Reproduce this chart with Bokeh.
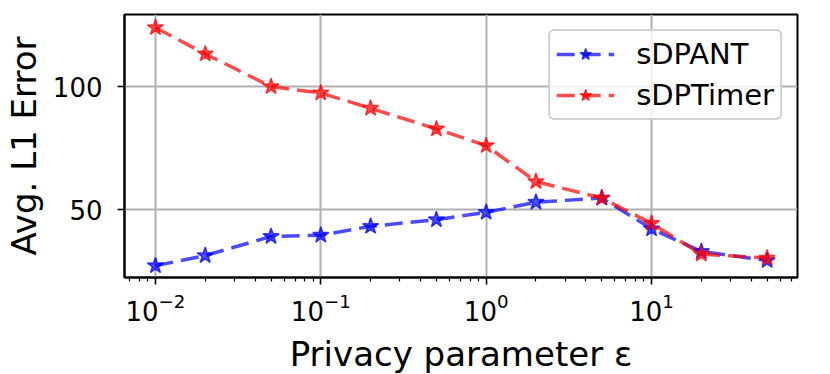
from bokeh.plotting import figure
from bokeh.models import FixedTicker, Range1d, Legend, LegendItem
from bokeh.embed import file_html
from bokeh.resources import INLINE

eps = [0.01, 0.02, 0.05, 0.1, 0.2, 0.5, 1, 2, 5, 10, 20, 50]
sdpant = [27.2, 31.3, 39.1, 39.6, 43.2, 45.9, 48.9, 53.0, 54.7, 42.2, 33.0, 29.3]
sdptimer = [124.0, 113.3, 100.0, 97.4, 91.2, 82.8, 76.0, 61.4, 54.7, 44.4, 31.9, 30.3]
x_major = [0.01, 0.1, 1, 10]
x_minor = [0.007, 0.008, 0.009] + [m * d for d in (0.01, 0.1, 1, 10) for m in range(2, 10) if m * d < 76]
y_major = [50, 100]

FONT = "DejaVu Sans"

p = figure(x_axis_type="log", output_backend="svg", toolbar_location=None,
           frame_width=673, frame_height=263,
           min_border_left=124, min_border_top=14, min_border_right=32, min_border_bottom=96,
           x_range=Range1d(0.0065, 76.3), y_range=Range1d(22.4, 129.3))
p.background_fill_color = "white"
p.border_fill_color = "white"
p.outline_line_color = "black"
p.outline_line_width = 2

for ax in (p.xaxis[0], p.yaxis[0]):
    ax.axis_line_color = "black"
    ax.axis_line_width = 2
    ax.major_tick_line_color = "black"
    ax.major_tick_line_width = 1.6
    ax.major_tick_out = 7
    ax.major_tick_in = 0
    ax.minor_tick_line_color = "black"
    ax.minor_tick_line_width = 1.2
    ax.minor_tick_out = 4
    ax.minor_tick_in = 0
    ax.major_label_text_font = FONT
    ax.major_label_text_font_size = "26px"
    ax.major_label_text_color = "black"
    ax.axis_label_text_font = FONT
    ax.axis_label_text_font_size = "34px"
    ax.axis_label_text_font_style = "normal"
    ax.axis_label_text_color = "black"

p.xaxis.ticker = FixedTicker(ticks=x_major, minor_ticks=x_minor)
p.yaxis.ticker = FixedTicker(ticks=y_major, minor_ticks=[])
p.xaxis.major_label_standoff = 8
p.yaxis.major_label_standoff = 15
p.xaxis.axis_label = "Privacy parameter ε"
p.yaxis.axis_label = "Avg. L1 Error"
p.xaxis.axis_label_standoff = 10
p.yaxis.axis_label_standoff = 6

p.xgrid.ticker = FixedTicker(ticks=x_major)
p.ygrid.ticker = FixedTicker(ticks=y_major)
for g in (p.xgrid[0], p.ygrid[0]):
    g.grid_line_color = "#b0b0b0"
    g.grid_line_width = 2

items = []
for name, vals, col in (("sDPANT", sdpant, "blue"), ("sDPTimer", sdptimer, "red")):
    l = p.line(eps, vals, line_color=col, line_alpha=0.7, line_width=3.5, line_dash="18 8")
    s = p.scatter(eps, vals, marker="star", size=17, fill_color=col, fill_alpha=0.7,
                  line_color=col, line_alpha=0.7, line_width=1.5)
    items.append(LegendItem(label=name, renderers=[l, s]))

legend = Legend(items=items, location="top_right")
legend.margin = 15
legend.padding = 6
legend.spacing = 7
legend.glyph_width = 58
legend.glyph_height = 30
legend.label_standoff = 22
legend.label_text_font = FONT
legend.label_text_font_size = "29px"
legend.label_text_color = "black"
legend.border_line_color = "#cccccc"
legend.border_line_width = 2
legend.border_line_alpha = 0.9
legend.background_fill_alpha = 0.8
legend.border_radius = 6
p.add_layout(legend)

open("out.html", "w").write(file_html(p, INLINE))
